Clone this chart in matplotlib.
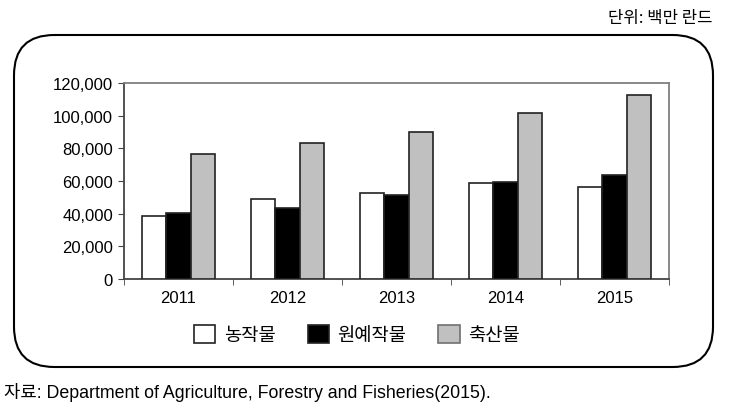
import numpy as np
import matplotlib.pyplot as plt
from matplotlib.patches import FancyBboxPatch, Patch
from matplotlib.ticker import FuncFormatter

plt.rcParams['font.family'] = ['Liberation Sans', 'Noto Sans CJK KR']

years = ['2011', '2012', '2013', '2014', '2015']
series_names = ['농작물', '원예작물', '축산물']
crops = [38700, 49000, 52500, 58800, 56100]
horti = [40200, 43500, 51400, 59400, 63900]
livestock = [76300, 83000, 90200, 101400, 112900]
colors = ['white', 'black', '#c0c0c0']

W, H = 733, 410
fig = plt.figure(figsize=(W / 100, H / 100), dpi=100)

# rounded outer frame
box = FancyBboxPatch((14 / W, 1 - 368 / H), (713 - 14) / W, (368 - 36) / H,
                     boxstyle='round,pad=0,rounding_size=0.055',
                     transform=fig.transFigure, fill=False, lw=1.5,
                     edgecolor='black', mutation_aspect=W / H)
fig.patches.append(box)

ax = fig.add_axes([124 / W, 1 - 280 / H, (669 - 124) / W, (280 - 84) / H])

x = np.arange(len(years))
bw = 0.225
for i, vals in enumerate([crops, horti, livestock]):
    ax.bar(x + (i - 1) * bw, vals, bw, color=colors[i], edgecolor='#222222',
           lw=1.2, zorder=3)

ax.set_xlim(-0.5, 4.5)
ax.set_ylim(0, 120000)
ax.set_yticks(np.arange(0, 120001, 20000))
ax.yaxis.set_major_formatter(FuncFormatter(lambda v, p: f'{int(v):,}'))
ax.set_xticks(x)
ax.set_xticklabels(years)
ax.set_xticks(np.arange(-0.5, 5, 1), minor=True)
ax.tick_params(axis='x', which='major', length=0, pad=8, labelsize=12)
ax.tick_params(axis='x', which='minor', length=4, direction='out', color='#444444')
ax.tick_params(axis='y', length=4, color='#444444', labelsize=12, pad=4)
for s in ['left', 'bottom']:
    ax.spines[s].set_color('#444444')
    ax.spines[s].set_linewidth(1.3)
for s in ['top', 'right']:
    ax.spines[s].set_color('#808080')
    ax.spines[s].set_linewidth(1.3)

handles = [Patch(facecolor=colors[i], edgecolor='#222222' if i < 2 else '#707070', lw=1.2)
           for i in range(3)]
fig.legend(handles, series_names, loc='center', bbox_to_anchor=(357 / W, 1 - 336 / H),
           ncol=3, frameon=False, handlelength=1.15, handleheight=1.15,
           handletextpad=0.45, columnspacing=1.7,
           prop={'family': ['Noto Sans CJK KR'], 'size': 13.5})

fig.text(713 / W, 1 - 18 / H, '단위: 백만 란드', ha='right', va='center',
         fontsize=12, family=['Noto Sans CJK KR'])
fig.text(4 / W, 1 - 393 / H, '자료: Department of Agriculture, Forestry and Fisheries(2015).',
         ha='left', va='center', fontsize=12.8, family=['Liberation Sans', 'Noto Sans CJK KR'])

fig.savefig('out.png', dpi=100)
